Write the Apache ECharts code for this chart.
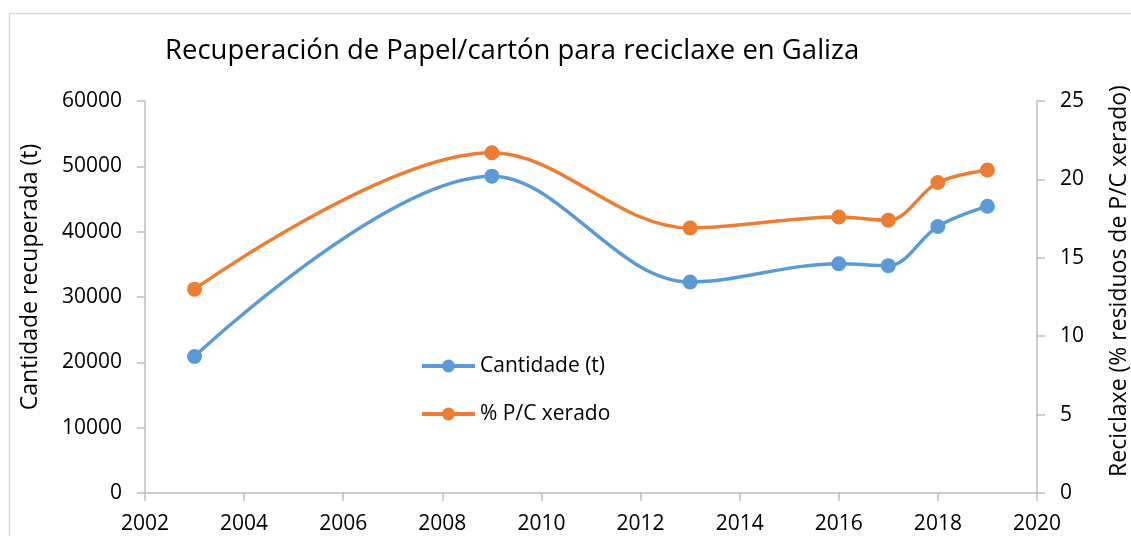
<!DOCTYPE html>
<html>
<head>
<meta charset="utf-8">
<script src="https://cdn.jsdelivr.net/npm/echarts@6/dist/echarts.min.js"></script>
<style>
html,body{margin:0;padding:0;background:#fff;}
#c{width:1131px;height:536px;}
</style>
</head>
<body>
<div id="c"></div>
<script>
var years = [2003, 2009, 2013, 2016, 2017, 2018, 2019];
var cantidade = [20900, 48500, 32300, 35100, 34800, 40800, 43900];
var porcentaxe = [13.0, 21.7, 16.9, 17.6, 17.4, 19.8, 20.6];
var seriesNames = ['Cantidade (t)', '% P/C xerado'];
var titleText = 'Recuperación de Papel/cartón para reciclaxe en Galiza';
var leftAxisName = 'Cantidade recuperada (t)';
var rightAxisName = 'Reciclaxe (% residuos de P/C xerado)';

var FONT = 'Open Sans';
var axisColor = '#BFBFBF';
var blue = '#5B9BD5', orange = '#ED7D31';

function pairs(xs, ys){ return xs.map(function(x,i){ return [x, ys[i]]; }); }
function fmt(v){ return String(v); }

var chart = echarts.init(document.getElementById('c'), null, {renderer:'canvas'});
chart.setOption({
  animation: false,
  backgroundColor: '#fff',
  textStyle: {fontFamily: FONT, color: '#000'},
  title: {
    text: titleText,
    left: 160, top: 32,
    textStyle: {fontFamily: FONT, fontSize: 27.5, fontWeight: 'normal', color: '#000'}
  },
  graphic: [{
    type: 'rect', left: 7, top: 11, silent: true,
    shape: {width: 1200, height: 600},
    style: {fill: 'none', stroke: '#D9D9D9', lineWidth: 1.5}
  }, {
    type: 'text', x: 30, y: 277, rotation: Math.PI / 2, silent: true,
    style: {text: leftAxisName, fontFamily: FONT, fontSize: 23, fill: '#000',
            textAlign: 'center', textVerticalAlign: 'middle'}
  }, {
    type: 'text', x: 1119, y: 281, rotation: Math.PI / 2, silent: true,
    style: {text: rightAxisName, fontFamily: FONT, fontSize: 23, fill: '#000',
            textAlign: 'center', textVerticalAlign: 'middle'}
  }],
  legend: {
    orient: 'vertical', left: 420, top: 354, padding: 0,
    itemWidth: 53, itemHeight: 16, itemGap: 24,
    lineStyle: {width: 4},
    textStyle: {fontFamily: FONT, fontSize: 21, color: '#000', lineHeight: 24},
    data: seriesNames
  },
  grid: {left: 145, right: 94, top: 101, bottom: 43},
  xAxis: {
    type: 'value', min: 2002, max: 2020, interval: 2,
    axisLine: {show: true, lineStyle: {color: axisColor, width: 1.5}},
    axisTick: {show: true, length: 8, lineStyle: {color: axisColor, width: 1.5}},
    splitLine: {show: false},
    axisLabel: {fontFamily: FONT, fontSize: 21, color: '#000', margin: 21, formatter: fmt}
  },
  yAxis: [{
    type: 'value', min: 0, max: 60000, interval: 10000,
    axisLine: {show: true, lineStyle: {color: axisColor, width: 1.5}},
    axisTick: {show: true, length: 8, lineStyle: {color: axisColor, width: 1.5}},
    splitLine: {show: false},
    axisLabel: {fontFamily: FONT, fontSize: 21, color: '#000', margin: 23, formatter: fmt}
  }, {
    type: 'value', min: 0, max: 25, interval: 5, position: 'right',
    axisLine: {show: true, lineStyle: {color: axisColor, width: 1.5}},
    axisTick: {show: true, length: 8, lineStyle: {color: axisColor, width: 1.5}},
    splitLine: {show: false},
    axisLabel: {fontFamily: FONT, fontSize: 21, color: '#000', margin: 23, formatter: fmt}
  }],
  series: [{
    name: seriesNames[0], type: 'line', yAxisIndex: 0,
    data: pairs(years, cantidade), smooth: 0.35,
    symbol: 'circle', symbolSize: 15,
    lineStyle: {color: blue, width: 3.5}, itemStyle: {color: blue}
  }, {
    name: seriesNames[1], type: 'line', yAxisIndex: 1,
    data: pairs(years, porcentaxe), smooth: 0.35,
    symbol: 'circle', symbolSize: 15,
    lineStyle: {color: orange, width: 3.5}, itemStyle: {color: orange}
  }]
});
</script>
</body>
</html>
